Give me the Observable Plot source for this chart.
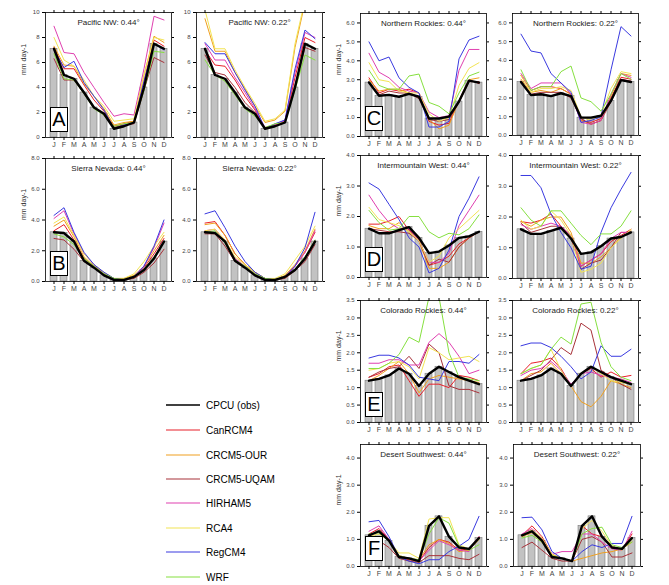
<!DOCTYPE html>
<html><head><meta charset="utf-8">
<script src="https://cdn.jsdelivr.net/npm/d3@7"></script>
<script src="https://cdn.jsdelivr.net/npm/@observablehq/plot@0.6"></script>
<style>
body{margin:0;background:#fff;font-family:"Liberation Sans",Arial,sans-serif;}
#fig{position:relative;width:669px;height:585px;overflow:hidden;background:#fff;}
.panel{position:absolute;}
.letter{position:absolute;width:16px;height:23px;border:1.5px solid #000;background:#fff;font-size:20px;line-height:23px;text-align:center;color:#000;}
.leg{position:absolute;left:166px;font-size:10px;color:#000;display:flex;align-items:center;height:14px;}
.leg svg{margin-right:6px;}
</style></head>
<body><div id="fig"></div>
<script>
const months = ["J","F","M","A","M","J","J","A","S","O","N","D"];
const models = ["CanRCM4","CRCM5-OUR","CRCM5-UQAM","HIRHAM5","RCA4","RegCM4","WRF"];
const modelColors = ["#e8202a","#f0a020","#a8323a","#e040b0","#f2e455","#3a3ae0","#86e040"];
const legendNames = ["CPCU (obs)","CanRCM4","CRCM5-OUR","CRCM5-UQAM","HIRHAM5","RCA4","RegCM4","WRF"];
const legendColors = ["#000","#e8202a","#f0a020","#a8323a","#e040b0","#f2e455","#3a3ae0","#86e040"];

// observed (CPCU) monthly precipitation, mm/day
const obsPNW    = [7.1,5.0,4.7,3.6,2.4,1.9,0.7,0.9,1.2,4.0,7.5,7.1];
const obsSierra = [3.2,3.15,2.6,1.35,0.9,0.4,0.1,0.1,0.3,0.75,1.5,2.6];
const obsNR     = [2.85,2.15,2.2,2.1,2.25,2.1,0.95,0.95,1.05,1.85,2.95,2.85];
const obsIW     = [1.6,1.45,1.45,1.55,1.65,1.3,0.8,0.85,1.05,1.3,1.35,1.5];
const obsCR     = [1.2,1.25,1.35,1.55,1.4,1.05,1.4,1.6,1.45,1.3,1.2,1.1];
const obsDSW    = [1.15,1.3,0.95,0.35,0.3,0.2,1.5,1.85,1.1,0.7,0.65,1.05];

// model series per panel
const pnw044 = {
  "CanRCM4":    [7.2,5.5,5.5,4.2,3.0,2.1,0.9,1.1,1.3,4.5,7.8,7.3],
  "CRCM5-OUR":  [7.3,5.8,5.7,4.3,3.3,2.3,1.0,1.2,1.3,5.0,8.1,7.6],
  "CRCM5-UQAM": [6.3,4.6,4.6,3.5,2.4,1.8,0.8,1.0,1.1,3.8,6.4,6.0],
  "HIRHAM5":    [8.9,6.8,6.7,5.2,4.0,2.8,1.7,1.9,1.8,5.5,9.7,9.4],
  "RCA4":       [8.0,6.2,5.7,4.6,3.3,2.5,1.3,1.4,1.5,5.0,8.0,7.8],
  "RegCM4":     [7.0,5.6,6.1,4.4,3.3,2.2,0.7,1.0,1.2,4.5,7.5,7.0],
  "WRF":        [6.7,4.7,4.6,3.5,2.3,1.8,0.9,1.1,1.2,3.8,6.9,6.8]
};
const pnw022 = {
  "CanRCM4":    [7.0,5.8,5.7,4.6,3.3,2.2,0.7,1.0,1.3,4.8,8.0,7.6],
  "CRCM5-OUR":  [9.5,6.9,6.9,5.2,3.9,2.5,1.2,1.4,2.1,7.2,10.8,10.4],
  "CRCM5-UQAM": [6.6,5.2,5.0,4.0,2.8,2.0,0.7,0.9,1.2,4.2,7.2,6.9],
  "HIRHAM5":    [7.5,6.2,6.2,4.8,3.6,2.3,0.8,1.0,1.4,5.2,8.4,8.0],
  "RCA4":       [10.2,7.1,7.1,5.4,4.0,2.7,1.3,1.5,2.2,7.5,11.0,10.5],
  "RegCM4":     [7.6,6.7,6.7,5.2,3.8,2.5,0.7,1.1,1.4,5.5,8.6,7.9],
  "WRF":        [6.2,5.0,4.5,3.4,2.3,1.7,0.8,1.1,1.2,3.8,6.6,6.2]
};
const sn044 = {
  "CanRCM4":    [3.3,3.7,2.7,1.5,1.0,0.5,0.1,0.1,0.3,0.9,1.8,2.8],
  "CRCM5-OUR":  [3.6,4.0,2.9,1.6,1.0,0.5,0.2,0.2,0.4,1.0,2.0,3.0],
  "CRCM5-UQAM": [2.8,2.7,2.1,1.3,0.9,0.4,0.1,0.1,0.2,0.6,1.2,2.1],
  "HIRHAM5":    [4.1,4.6,3.1,1.8,1.1,0.5,0.15,0.1,0.3,1.0,2.2,3.8],
  "RCA4":       [3.8,4.2,3.0,1.8,1.1,0.6,0.2,0.2,0.5,1.3,2.3,3.2],
  "RegCM4":     [4.3,4.8,3.2,1.9,1.1,0.6,0.2,0.1,0.3,1.0,2.3,4.0],
  "WRF":        [3.1,2.9,2.4,1.5,1.0,0.5,0.2,0.1,0.3,0.8,1.6,2.6]
};
const sn022 = {
  "CanRCM4":    [3.8,3.9,3.0,1.8,1.1,0.6,0.2,0.1,0.3,1.0,1.9,3.2],
  "CRCM5-OUR":  [3.7,3.8,3.0,1.8,1.1,0.6,0.2,0.1,0.4,1.1,2.0,3.4],
  "CRCM5-UQAM": [3.1,3.1,2.3,1.3,0.9,0.4,0.1,0.1,0.2,0.7,1.3,2.4],
  "HIRHAM5":    [3.3,3.4,2.6,1.5,1.0,0.5,0.15,0.1,0.3,1.0,1.9,3.3],
  "RCA4":       [3.3,3.4,2.7,1.6,1.1,0.6,0.2,0.2,0.5,1.4,2.3,3.6],
  "RegCM4":     [4.4,4.6,3.5,2.3,1.3,0.6,0.2,0.1,0.3,1.0,2.2,4.5],
  "WRF":        [3.2,3.3,2.5,1.4,1.0,0.5,0.2,0.1,0.3,0.8,1.6,2.7]
};
const nr044 = {
  "CanRCM4":    [3.1,2.3,2.5,2.4,2.5,2.3,0.8,0.6,0.7,1.9,3.0,2.8],
  "CRCM5-OUR":  [3.0,2.4,2.5,2.5,2.3,2.1,0.9,0.4,0.6,1.9,3.0,3.1],
  "CRCM5-UQAM": [2.9,2.2,2.4,2.3,2.3,2.0,0.9,0.8,0.9,1.8,2.9,2.9],
  "HIRHAM5":    [4.4,3.4,3.1,2.6,2.4,2.3,1.3,1.0,1.1,3.5,4.6,4.6],
  "RCA4":       [3.9,3.0,2.9,2.4,2.3,2.3,1.2,0.8,1.0,2.7,3.6,3.9],
  "RegCM4":     [5.0,4.0,4.2,3.1,2.6,2.3,0.5,0.5,0.8,4.1,5.1,5.3],
  "WRF":        [3.5,2.7,2.5,2.5,3.2,3.3,1.8,1.6,1.2,2.3,3.2,3.4]
};
const nr022 = {
  "CanRCM4":    [3.2,2.4,2.6,2.6,2.5,2.2,0.8,0.7,0.9,2.0,3.1,3.0],
  "CRCM5-OUR":  [3.0,2.3,2.4,2.3,2.5,2.2,0.8,0.6,0.8,2.1,3.3,3.2],
  "CRCM5-UQAM": [2.9,2.2,2.3,2.3,2.3,2.0,0.9,0.6,0.8,1.8,3.0,2.9],
  "HIRHAM5":    [3.3,2.5,2.8,2.8,2.8,2.2,0.7,0.6,0.8,2.2,3.3,3.1],
  "RCA4":       [3.2,2.3,2.5,2.5,2.6,2.4,1.0,0.8,1.1,2.5,3.4,3.3],
  "RegCM4":     [5.4,4.5,4.4,3.3,2.8,2.3,0.7,0.8,1.0,3.5,5.8,5.3],
  "WRF":        [3.5,2.4,2.6,2.6,3.4,3.7,2.0,1.8,1.3,2.2,3.3,3.0]
};
const iw044 = {
  "CanRCM4":    [1.75,1.75,1.85,2.0,1.55,1.25,0.4,0.5,0.7,1.1,1.3,1.5],
  "CRCM5-OUR":  [1.7,1.6,1.6,1.8,1.5,1.2,0.3,0.3,0.5,1.0,1.3,1.5],
  "CRCM5-UQAM": [1.6,1.55,1.5,1.5,1.45,1.2,0.4,0.6,0.5,1.0,1.3,1.5],
  "HIRHAM5":    [2.7,2.2,1.8,1.6,1.6,1.2,0.5,0.5,0.8,1.7,2.2,2.7],
  "RCA4":       [2.3,1.9,1.8,1.7,1.5,1.2,0.5,0.7,1.3,1.6,1.9,2.2],
  "RegCM4":     [3.1,2.9,2.4,1.9,1.3,1.0,0.15,0.3,0.9,2.0,2.6,3.3],
  "WRF":        [2.2,1.8,1.55,1.6,2.0,2.0,1.5,1.3,1.45,1.4,1.6,2.05]
};
const iw022 = {
  "CanRCM4":    [1.85,1.8,1.9,2.1,1.7,1.3,0.4,0.6,0.8,1.2,1.4,1.6],
  "CRCM5-OUR":  [1.85,1.7,1.9,2.0,2.0,1.5,0.5,0.5,0.7,1.0,1.35,1.55],
  "CRCM5-UQAM": [1.8,1.5,1.6,1.7,1.7,1.4,0.3,0.5,0.6,1.0,1.5,1.5],
  "HIRHAM5":    [1.75,1.6,1.7,1.8,1.7,1.4,0.4,0.6,0.8,1.3,1.5,1.5],
  "RCA4":       [1.9,1.6,1.7,2.2,1.9,1.4,0.2,0.3,0.5,1.0,1.3,1.6],
  "RegCM4":     [3.35,3.35,2.95,2.1,1.5,1.0,0.3,0.4,1.5,2.3,2.9,3.45],
  "WRF":        [2.3,1.9,1.7,2.2,2.2,1.8,1.4,1.1,1.45,1.45,1.7,2.2]
};
const cr044 = {
  "CanRCM4":    [1.3,1.4,1.6,1.65,1.2,0.75,1.1,1.1,1.0,1.35,1.3,1.2],
  "CRCM5-OUR":  [1.2,1.35,1.55,1.75,1.4,0.85,1.25,1.35,1.3,1.25,1.2,1.15],
  "CRCM5-UQAM": [1.3,1.45,1.55,1.6,1.9,1.55,2.25,2.0,1.05,0.95,0.95,0.85],
  "HIRHAM5":    [1.7,1.7,1.8,1.8,1.65,1.65,2.3,2.55,2.3,1.9,1.4,1.5],
  "RCA4":       [1.5,1.55,1.7,1.75,1.6,1.25,2.15,2.0,1.8,1.85,1.9,1.75],
  "RegCM4":     [1.85,1.93,1.93,1.85,1.65,1.3,1.25,1.2,1.75,1.75,1.7,1.95],
  "WRF":        [1.55,1.55,1.7,1.95,2.45,2.3,3.6,3.6,2.0,1.3,1.25,1.2]
};
const cr022 = {
  "CanRCM4":    [1.4,1.7,1.75,1.85,1.55,1.05,1.4,1.55,1.3,1.45,1.3,1.35],
  "CRCM5-OUR":  [1.2,1.4,1.45,1.7,1.4,1.05,0.6,0.45,0.75,1.2,1.1,1.0],
  "CRCM5-UQAM": [1.2,1.35,1.5,1.8,2.15,1.95,2.85,2.65,1.5,1.3,1.1,0.95],
  "HIRHAM5":    [1.35,1.5,1.55,1.75,1.5,1.1,1.4,1.45,1.35,1.3,1.25,1.15],
  "RCA4":       [1.4,1.55,1.65,2.1,1.5,1.05,1.4,1.6,1.4,1.2,1.15,1.1],
  "RegCM4":     [2.2,2.28,2.28,2.15,1.9,1.6,1.25,1.45,2.2,1.9,1.9,2.1],
  "WRF":        [1.4,1.55,1.65,2.1,2.45,2.25,3.4,3.45,2.3,1.6,1.3,1.2]
};
const dsw044 = {
  "CanRCM4":    [1.2,1.4,1.0,0.35,0.25,0.2,0.7,1.0,0.9,0.6,0.65,1.1],
  "CRCM5-OUR":  [1.15,1.3,0.95,0.4,0.3,0.25,0.8,1.0,0.85,0.55,0.6,1.0],
  "CRCM5-UQAM": [0.8,0.95,0.7,0.3,0.2,0.15,0.4,0.4,0.4,0.3,0.25,0.45],
  "HIRHAM5":    [1.3,1.5,1.0,0.4,0.3,0.2,0.6,0.95,0.8,0.6,0.55,1.1],
  "RCA4":       [1.1,1.2,0.95,0.5,0.5,0.3,1.75,1.8,1.8,0.8,0.65,1.0],
  "RegCM4":     [1.65,1.7,1.1,0.35,0.2,0.1,0.25,0.25,0.55,0.75,1.0,1.85],
  "WRF":        [1.2,1.25,0.95,0.4,0.3,0.25,1.2,1.8,1.6,0.75,0.6,0.8]
};
const dsw022 = {
  "CanRCM4":    [1.15,1.5,1.1,0.45,0.3,0.2,1.5,1.2,1.1,0.75,0.6,1.2],
  "CRCM5-OUR":  [1.1,1.25,0.9,0.4,0.3,0.2,0.3,0.4,0.5,0.55,0.65,0.9],
  "CRCM5-UQAM": [0.7,0.9,0.6,0.3,0.2,0.2,1.0,1.1,0.9,0.35,0.35,0.5],
  "HIRHAM5":    [1.2,1.4,1.0,0.45,0.55,0.55,1.2,1.2,0.9,0.65,0.6,1.3],
  "RCA4":       [1.15,1.35,1.05,0.45,0.3,0.2,1.4,1.7,1.3,0.75,0.6,1.0],
  "RegCM4":     [1.8,1.82,1.35,0.55,0.3,0.2,0.55,0.8,0.7,0.85,0.85,1.85],
  "WRF":        [1.05,1.15,0.9,0.4,0.3,0.2,1.2,1.4,1.45,0.8,0.7,0.9]
};

// axis tick values / labels
const ticksPNW = [0,2,4,6,8,10],           labelsPNW = ["0","2","4","6","8","10"];
const ticksSN  = [0,2,4,6,8],              labelsSN  = ["0.0","2.0","4.0","6.0","8.0"];
const ticksNR  = [0,1,2,3,4,5,6],          labelsNR  = ["0.0","1.0","2.0","3.0","4.0","5.0","6.0"];
const ticksIW  = [0,1,2,3,4],              labelsIW  = ["0.0","1.0","2.0","3.0","4.0"];
const ticksCR  = [0,0.5,1,1.5,2,2.5,3,3.5],labelsCR  = ["0.0","0.5","1.0","1.5","2.0","2.5","3.0","3.5"];
const ticksDSW = [0,1,2,3,4],              labelsDSW = ["0.0","1.0","2.0","3.0","4.0"];

const panels = [
  {title:"Pacific NW: 0.44°", obs:obsPNW, m:pnw044, ymax:10, t:ticksPNW, l:labelsPNW, box:[45,12,171,137], letter:"A", ylab:true},
  {title:"Pacific NW: 0.22°", obs:obsPNW, m:pnw022, ymax:10, t:ticksPNW, l:labelsPNW, box:[196,12,322,137]},
  {title:"Sierra Nevada: 0.44°", obs:obsSierra, m:sn044, ymax:8, t:ticksSN, l:labelsSN, box:[45,158,171,281], letter:"B", ylab:true},
  {title:"Sierra Nevada: 0.22°", obs:obsSierra, m:sn022, ymax:8, t:ticksSN, l:labelsSN, box:[196,158,322,281]},
  {title:"Northern Rockies: 0.44°", obs:obsNR, m:nr044, ymax:6.5, t:ticksNR, l:labelsNR, box:[360,13,486,136], letter:"C", ylab:true},
  {title:"Northern Rockies: 0.22°", obs:obsNR, m:nr022, ymax:6.5, t:ticksNR, l:labelsNR, box:[512,13,638,135]},
  {title:"Intermountain West: 0.44°", obs:obsIW, m:iw044, ymax:4, t:ticksIW, l:labelsIW, box:[360,155,486,277], letter:"D", ylab:true},
  {title:"Intermountain West: 0.22°", obs:obsIW, m:iw022, ymax:4, t:ticksIW, l:labelsIW, box:[512,155,638,278]},
  {title:"Colorado Rockies: 0.44°", obs:obsCR, m:cr044, ymax:3.5, t:ticksCR, l:labelsCR, box:[360,300,486,422], letter:"E", ylab:true},
  {title:"Colorado Rockies: 0.22°", obs:obsCR, m:cr022, ymax:3.5, t:ticksCR, l:labelsCR, box:[512,300,638,422]},
  {title:"Desert Southwest: 0.44°", obs:obsDSW, m:dsw044, ymax:4.5, t:ticksDSW, l:labelsDSW, box:[360,444,486,566], letter:"F", ylab:true},
  {title:"Desert Southwest: 0.22°", obs:obsDSW, m:dsw022, ymax:4.5, t:ticksDSW, l:labelsDSW, box:[513,444,640,566]}
];

const fig = document.getElementById("fig");
const mL = 36, mR = 4, mT = 4, mB = 16;

panels.forEach(p => {
  const [x0,y0,x1,y1] = p.box;
  const obsRows = p.obs.map((v,i) => ({i, v}));
  const lineRows = [];
  models.forEach(name => p.m[name].forEach((v,i) => lineRows.push({i, v, model:name})));
  const marks = [
    Plot.barY(obsRows, {x:"i", y:"v", fill:"#c2c2c2", stroke:"#6a6a6a", strokeWidth:0.5}),
    Plot.line(lineRows, {x:"i", y:"v", z:"model", stroke:"model", strokeWidth:1, clip:true}),
    Plot.line(obsRows, {x:"i", y:"v", stroke:"#000", strokeWidth:2.4, clip:true}),
    Plot.axisY({ticks:p.t, tickFormat:(d,k) => p.l[k], tickSize:3, tickPadding:3, fontSize:6, fill:"#444", label:null}),
    Plot.axisY({anchor:"right", ticks:p.t, tickFormat:() => "", tickSize:2, label:null}),
    Plot.axisX({tickFormat:i => months[i], tickSize:3, tickPadding:2, fontSize:7, fill:"#444", label:null}),
    Plot.axisX({anchor:"top", tickFormat:() => "", tickSize:3, label:null}),
    Plot.frame({stroke:"#000", strokeWidth:0.8}),
    Plot.text([p.title], {frameAnchor:"top", dy:7, fontSize:8, fill:"#222"})
  ];
  if (p.ylab) marks.push(Plot.text(["mm day-1"], {frameAnchor:"left", dx:-22, rotate:-90, fontSize:7, fill:"#333"}));
  const chart = Plot.plot({
    width: (x1-x0)+mL+mR, height: (y1-y0)+mT+mB,
    marginLeft:mL, marginRight:mR, marginTop:mT, marginBottom:mB,
    style:{fontFamily:"Liberation Sans, Arial, sans-serif", background:"transparent", overflow:"visible"},
    x:{type:"band", domain:d3.range(12), paddingInner:0.3, paddingOuter:0.15, axis:null},
    y:{domain:[0,p.ymax], axis:null},
    color:{domain:models, range:modelColors},
    marks
  });
  chart.classList.add("panel");
  chart.style.left = (x0-mL)+"px";
  chart.style.top = (y0-mT)+"px";
  fig.appendChild(chart);
  if (p.letter) {
    const d = document.createElement("div");
    d.className = "letter";
    d.textContent = p.letter;
    d.style.left = (x0+5)+"px";
    d.style.top = (y1-30)+"px";
    fig.appendChild(d);
  }
});

// legend
const legY = [398,423,448,472,496,521,545,570];
legendNames.forEach((name,k) => {
  const row = document.createElement("div");
  row.className = "leg";
  row.style.top = legY[k]+"px";
  row.innerHTML = `<svg width="34" height="6"><line x1="0" y1="3" x2="34" y2="3" stroke="${legendColors[k]}" stroke-width="${k===0?1.6:1.2}"/></svg><span>${name}</span>`;
  fig.appendChild(row);
});
</script></body></html>
